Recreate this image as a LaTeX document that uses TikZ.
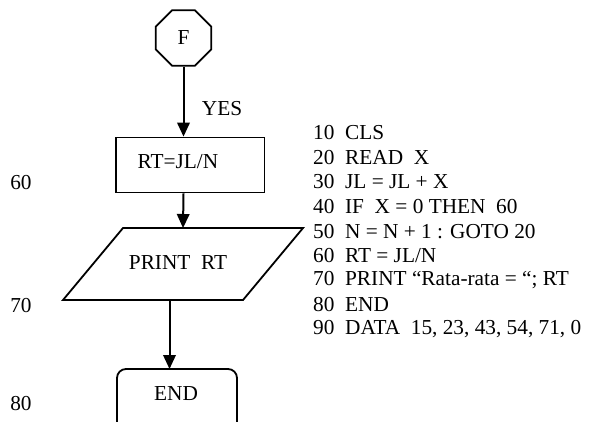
\documentclass[tikz,border=0pt]{standalone}
\usepackage{fontspec}
\setmainfont{Liberation Serif}
\usetikzlibrary{shapes.geometric,arrows.meta}

\tikzset{
  flow/.style={line width=2pt,-{Triangle[length=14pt,width=12.5pt]}},
  boxline/.style={line width=1.8pt},
  txt/.style={font=\fontsize{21.3}{25}\selectfont, inner sep=0pt},
  code/.style={txt, anchor=west},
}
\newcommand{\gap}{\hspace{0.5em}}

\begin{document}
\begin{tikzpicture}[x=1pt,y=-1pt]
  \useasboundingbox (0,0) rectangle (594,421);

  % connector symbol F
  \node[regular polygon, regular polygon sides=8, draw, boxline,
        minimum size=60pt, inner sep=0pt, txt] (oct) at (183.5,38) {F};

  % process box
  \node[draw, boxline, minimum width=148.5pt, minimum height=55pt]
       (rt) at (190.25,165) {};
  \node[txt] (rtt) at (178,162) {RT=JL/N};

  % output parallelogram
  \coordinate (ptl) at (123,228);
  \coordinate (ptr) at (303,228);
  \coordinate (pbr) at (243,300);
  \coordinate (pbl) at (63,300);
  \draw[boxline, line join=miter] (ptl) -- (ptr) -- (pbr) -- (pbl) -- cycle;
  \node[txt] (pr) at (178,263) {PRINT\ \ RT};
  \coordinate (ptop) at (183,228);
  \coordinate (pbot) at (169.5,300);

  % terminal, cut off at the lower edge
  \coordinate (etop) at (169.5,369);
  \draw[boxline, rounded corners=9pt] (117,440) -- (117,369) -- (237,369) -- (237,440);
  \node[txt] (endt) at (176,394) {END};

  % connectors
  \draw[flow] (oct.south) -- (oct.south |- rt.north);
  \node[txt] (yes) at (222,109) {YES};
  \draw[flow] (oct.south |- rt.south) -- (ptop);
  \draw[flow] (pbot) -- (etop);

  % line numbers
  \node[txt] (n60) at (21,183) {60};
  \node[txt] (n70) at (21,306) {70};
  \node[txt] (n80) at (21,404) {80};

  % program listing
  \node[code] (c10) at (313,133)   {10\gap CLS};
  \node[code] (c20) at (313,158)   {20\gap READ\ \ X};
  \node[code] (c30) at (313,182)   {30\gap JL = JL + X};
  \node[code] (c40) at (313,207)   {40\gap IF\ \ X = 0 THEN\ \ 60};
  \node[code] (c50) at (313,232)   {50\gap N = N + 1 : GOTO 20};
  \node[code] (c60) at (313,256)   {60\gap RT = JL/N};
  \node[code] (c70) at (313,280.5) {70\gap PRINT “Rata-rata = “; RT};
  \node[code] (c80) at (313,305)   {80\gap END};
  \node[code] (c90) at (313,329.5) {90\gap DATA\ \ 15, 23, 43, 54, 71, 0};
\end{tikzpicture}
\end{document}
